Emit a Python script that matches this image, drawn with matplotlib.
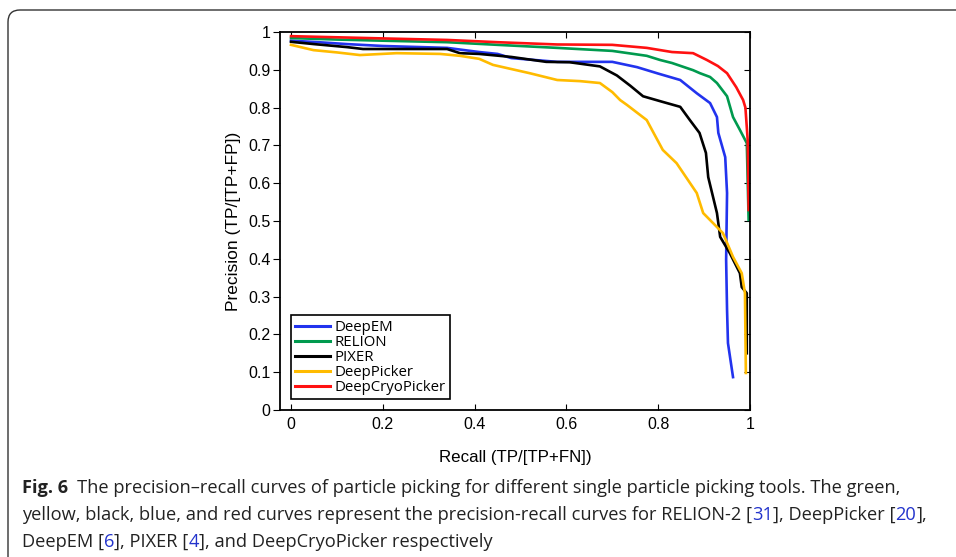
import matplotlib.pyplot as plt
from matplotlib.patches import FancyBboxPatch
from matplotlib.transforms import IdentityTransform

# recall / precision
deepem_r = [0, 0.06, 0.122, 0.2, 0.34, 0.41, 0.45, 0.48, 0.58, 0.673, 0.70, 0.754, 0.80, 0.848,
            0.884, 0.913, 0.928, 0.931, 0.946, 0.95, 0.948, 0.95, 0.952, 0.963]
deepem_p = [0.977, 0.973, 0.968, 0.963, 0.958, 0.947, 0.942, 0.931, 0.921, 0.921, 0.921, 0.907,
            0.89, 0.873, 0.838, 0.812, 0.775, 0.733, 0.669, 0.574, 0.397, 0.265, 0.177, 0.087]

relion_r = [0, 0.1, 0.2, 0.34, 0.45, 0.58, 0.70, 0.775, 0.804, 0.83, 0.876, 0.891, 0.913, 0.928,
            0.95, 0.963, 0.978, 0.993, 0.997]
relion_p = [0.984, 0.980, 0.977, 0.973, 0.966, 0.958, 0.950, 0.937, 0.926, 0.918, 0.899, 0.891,
            0.881, 0.865, 0.83, 0.775, 0.741, 0.706, 0.503]

pixer_r = [0, 0.05, 0.122, 0.157, 0.34, 0.368, 0.41, 0.48, 0.556, 0.607, 0.673, 0.71, 0.739,
           0.767, 0.81, 0.848, 0.869, 0.89, 0.904, 0.909, 0.928, 0.935, 0.956, 0.978, 0.982,
           0.993, 0.993]
pixer_p = [0.974, 0.968, 0.96, 0.955, 0.955, 0.944, 0.942, 0.934, 0.921, 0.92, 0.909, 0.885,
           0.858, 0.83, 0.815, 0.802, 0.767, 0.733, 0.68, 0.616, 0.521, 0.458, 0.415, 0.362,
           0.325, 0.309, 0.15]

deeppicker_r = [0, 0.049, 0.1, 0.15, 0.23, 0.325, 0.368, 0.41, 0.44, 0.52, 0.58, 0.63, 0.673,
                0.70, 0.717, 0.732, 0.775, 0.79, 0.81, 0.84, 0.884, 0.898, 0.941, 0.963, 0.982,
                0.989, 0.991]
deeppicker_p = [0.966, 0.952, 0.946, 0.939, 0.944, 0.942, 0.937, 0.929, 0.913, 0.891, 0.873,
                0.87, 0.865, 0.841, 0.82, 0.807, 0.767, 0.733, 0.688, 0.653, 0.574, 0.521,
                0.468, 0.405, 0.362, 0.309, 0.098]

cryo_r = [0, 0.1, 0.2, 0.34, 0.45, 0.58, 0.70, 0.775, 0.83, 0.876, 0.906, 0.93, 0.95, 0.97,
          0.985, 0.99, 0.995, 0.997]
cryo_p = [0.989, 0.986, 0.983, 0.979, 0.973, 0.967, 0.966, 0.958, 0.947, 0.944, 0.926, 0.91,
          0.891, 0.854, 0.82, 0.80, 0.714, 0.529]

names = ['DeepEM', 'RELION', 'PIXER', 'DeepPicker', 'DeepCryoPicker']
colors = ['#2233ee', '#009a4e', '#000000', '#ffbb00', '#ff1111']
xticks = [0, 0.2, 0.4, 0.6, 0.8, 1]
xticklabels = ['0', '0.2', '0.4', '0.6', '0.8', '1']
yticks = [0, 0.1, 0.2, 0.3, 0.4, 0.5, 0.6, 0.7, 0.8, 0.9, 1]
yticklabels = ['0', '0.1', '0.2', '0.3', '0.4', '0.5', '0.6', '0.7', '0.8', '0.9', '1']

plt.rcParams['font.family'] = 'Liberation Sans'

fig = plt.figure(figsize=(9.56, 5.57), dpi=100)
ax = fig.add_axes([280 / 956, 1 - 410 / 557, 470 / 956, 378 / 557])

curves = [(deepem_r, deepem_p), (relion_r, relion_p), (pixer_r, pixer_p),
          (deeppicker_r, deeppicker_p), (cryo_r, cryo_p)]
for (r, p), name, c in zip(curves, names, colors):
    ax.plot(r, p, color=c, lw=1.9, label=name)

ax.set_xlim(-0.024, 1)
ax.set_ylim(0, 1)
ax.set_xticks(xticks)
ax.set_xticklabels(xticklabels)
ax.set_yticks(yticks)
ax.set_yticklabels(yticklabels)
ax.tick_params(axis='x', direction='in', top=True, length=4, labelsize=11.5, pad=5)
ax.tick_params(axis='y', direction='out', length=5, labelsize=11.5, pad=2)
for s in ax.spines.values():
    s.set_linewidth(1.3)
# inward ticks on the right side
ax2 = ax.secondary_yaxis('right')
ax2.set_yticks(yticks)
ax2.tick_params(direction='in', length=4, labelright=False)
ax2.spines['right'].set_visible(False)

ax.set_xlabel('Recall (TP/[TP+FN])', fontsize=12.2, labelpad=13)
ax.set_ylabel('Precision (TP/[TP+FP])', fontsize=12.5, labelpad=5)

leg = ax.legend(loc='lower left', bbox_to_anchor=(0.023, 0.029), borderaxespad=0,
                fancybox=False, edgecolor='black', framealpha=1,
                handlelength=2.3, handletextpad=0.3, labelspacing=0.0, handleheight=0.5,
                borderpad=0.3, prop={'family': 'Open Sans', 'size': 10.8})
leg.get_frame().set_linewidth(1.2)
for h in leg.get_lines():
    h.set_linewidth(2.2)

# rounded frame around the figure
box = FancyBboxPatch((8, -20), 1100, 557 - 10 + 20, boxstyle='round,pad=0,rounding_size=12',
                     transform=IdentityTransform(), fill=False, edgecolor='#333333', lw=1.0)
fig.patches.append(box)

# caption
cap_font = 'Open Sans'
renderer = fig.canvas.get_renderer()


def write_line(pieces, x0, y_px, size):
    x = x0
    for txt, col, wt in pieces:
        t = fig.text(x / 956, 1 - y_px / 557, txt, color=col, fontsize=size, weight=wt,
                     family=cap_font, ha='left', va='baseline')
        x += t.get_window_extent(renderer).width
    return x


blue = '#2233cc'
k = '#222222'
line1 = [('Fig. 6', k, 'bold'),
         ('\u2002The precision\u2013recall curves of particle picking for different single '
          'particle picking tools. The green,', k, 'normal')]
line2 = [('yellow, black, blue, and red curves represent the precision-recall curves for '
          'RELION-2 [', k, 'normal'), ('31', blue, 'normal'), ('], DeepPicker [', k, 'normal'),
         ('20', blue, 'normal'), ('],', k, 'normal')]
line3 = [('DeepEM [', k, 'normal'), ('6', blue, 'normal'), ('], PIXER [', k, 'normal'),
         ('4', blue, 'normal'), ('], and DeepCryoPicker respectively', k, 'normal')]

# fit the widest line to the width it has in the reference
probe = fig.text(0, 0, ''.join(p[0] for p in line2), fontsize=11, family=cap_font)
w = probe.get_window_extent(renderer).width
probe.remove()
size = 11 * 908 / w

write_line(line1, 22, 493, size)
write_line(line2, 22, 520, size)
write_line(line3, 22, 547, size)

fig.savefig('out.png', dpi=100)
